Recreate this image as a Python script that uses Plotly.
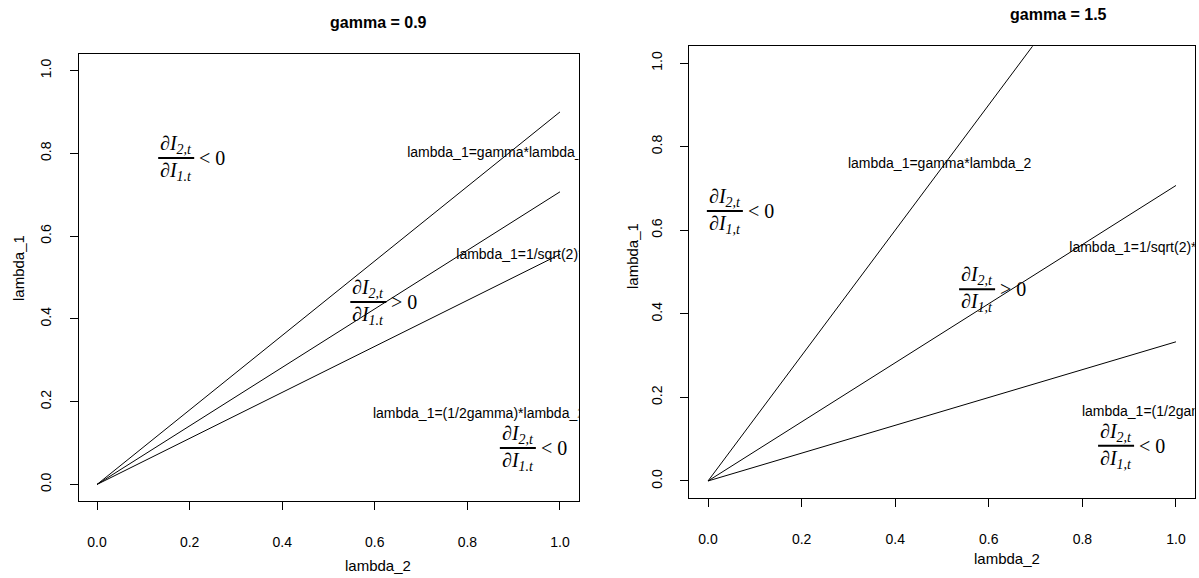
import plotly.graph_objects as go

# ---------------- data ----------------
lambda2 = [0.0, 1.0]
left_gamma_line = [0.0, 0.90]
left_sqrt_line = [0.0, 0.707]
left_half_line = [0.0, 0.556]
right_gamma_line = [0.0, 1.50]
right_sqrt_line = [0.0, 0.707]
right_half_line = [0.0, 0.333]

tick_vals = [0.0, 0.2, 0.4, 0.6, 0.8, 1.0]
tick_text = ["0.0", "0.2", "0.4", "0.6", "0.8", "1.0"]

titles = ["gamma = 0.9", "gamma = 1.5"]
xlab = "lambda_2"
ylab = "lambda_1"

line_labels = ["lambda_1=gamma*lambda_2", "lambda_1=1/sqrt(2)*lambda_2", "lambda_1=(1/2gamma)*lambda_2"]
left_label_x = [0.670, 0.776, 0.596]
left_label_y = [0.800, 0.554, 0.168]
right_label_x = [0.299, 0.772, 0.799]
right_label_y = [0.756, 0.557, 0.165]

# fraction annotations: centre of fraction bar, relation sign, denominator subscript
left_frac_x = [0.171, 0.586, 0.909]
left_frac_y = [0.789, 0.441, 0.088]
left_frac_rel = ["&lt; 0", "&gt; 0", "&lt; 0"]
left_den_sub = "1.t"
right_frac_x = [0.036, 0.575, 0.872]
right_frac_y = [0.646, 0.459, 0.084]
right_frac_rel = ["&lt; 0", "&gt; 0", "&lt; 0"]
right_den_sub = "1,t"

SANS = "Liberation Sans, Arial, sans-serif"
SERIF = "Liberation Serif, DejaVu Serif, serif"

fig = go.Figure()

panels = [
    dict(xa="x", ya="y", lines=[left_gamma_line, left_sqrt_line, left_half_line],
         lx=left_label_x, ly=left_label_y, fx=left_frac_x, fy=left_frac_y,
         rel=left_frac_rel, den=left_den_sub),
    dict(xa="x2", ya="y2", lines=[right_gamma_line, right_sqrt_line, right_half_line],
         lx=right_label_x, ly=right_label_y, fx=right_frac_x, fy=right_frac_y,
         rel=right_frac_rel, den=right_den_sub),
]

annotations = []
shapes = []
for p in panels:
    for ys in p["lines"]:
        fig.add_trace(go.Scatter(x=lambda2, y=ys, mode="lines", xaxis=p["xa"], yaxis=p["ya"],
                                 line=dict(color="black", width=1), showlegend=False,
                                 hoverinfo="skip"))
    fig.add_trace(go.Scatter(x=p["lx"], y=p["ly"], mode="text", text=line_labels,
                             textposition="middle right", cliponaxis=True,
                             textfont=dict(family=SANS, size=14, color="black"),
                             xaxis=p["xa"], yaxis=p["ya"], showlegend=False, hoverinfo="skip"))
    for fx, fy, rel in zip(p["fx"], p["fy"], p["rel"]):
        annotations.append(dict(x=fx, y=fy, xref=p["xa"], yref=p["ya"], showarrow=False,
                                text="<i>∂I</i><sub><i>2,t</i></sub>", xanchor="center",
                                yanchor="bottom", yshift=-1,
                                font=dict(family=SERIF, size=20, color="black")))
        annotations.append(dict(x=fx, y=fy, xref=p["xa"], yref=p["ya"], showarrow=False,
                                text="<i>∂I</i><sub><i>" + p["den"] + "</i></sub>", xanchor="center",
                                yanchor="top", yshift=1,
                                font=dict(family=SERIF, size=20, color="black")))
        annotations.append(dict(x=fx, y=fy, xref=p["xa"], yref=p["ya"], showarrow=False,
                                text=rel, xanchor="left", yanchor="middle", xshift=21,
                                font=dict(family=SERIF, size=20, color="black")))
        shapes.append(dict(type="line", xref=p["xa"], yref=p["ya"],
                           xsizemode="pixel", xanchor=fx, x0=-18, x1=18,
                           ysizemode="pixel", yanchor=fy, y0=0, y1=0,
                           line=dict(color="black", width=2)))

W, H = 1199, 578
# titles and axis titles (pixel positions converted to paper)
text_pos = [
    (titles[0], 378, 22, 16, True, 0),
    (titles[1], 1058, 14, 16, True, 0),
    (xlab, 378, 565, 15, False, 0),
    (xlab, 1007, 558, 15, False, 0),
    (ylab, 18, 268, 15, False, -90),
    (ylab, 632, 256, 15, False, -90),
]
for t, px, py, sz, bold, ang in text_pos:
    annotations.append(dict(x=px / W, y=1 - py / H, xref="paper", yref="paper", showarrow=False,
                            text=("<b>" + t + "</b>") if bold else t, textangle=ang,
                            xanchor="center", yanchor="middle",
                            font=dict(family=SANS, size=sz, color="black")))

axis_common = dict(range=[-0.04, 1.04], tickvals=tick_vals, ticktext=tick_text, ticks="outside",
                   ticklen=8, tickcolor="black", tickwidth=1, showline=True, linecolor="black",
                   linewidth=1, mirror=True, showgrid=False, zeroline=False,
                   tickfont=dict(family=SANS, size=14, color="black"))

fig.update_layout(
    width=W, height=H, margin=dict(l=0, r=0, t=0, b=0),
    paper_bgcolor="white", plot_bgcolor="white",
    xaxis=dict(domain=[78.5 / W, 578.5 / W], anchor="y", ticklabelstandoff=20, **axis_common),
    yaxis=dict(domain=[1 - 501 / H, 1 - 54 / H], anchor="x", tickangle=-90, ticklabelstandoff=13, **axis_common),
    xaxis2=dict(domain=[689.3 / W, 1194.7 / W], anchor="y2", ticklabelstandoff=20, **axis_common),
    yaxis2=dict(domain=[1 - 497.7 / H, 1 - 46.3 / H], anchor="x2", tickangle=-90, ticklabelstandoff=13, **axis_common),
    annotations=annotations, shapes=shapes,
)

fig.write_html("out.html")
